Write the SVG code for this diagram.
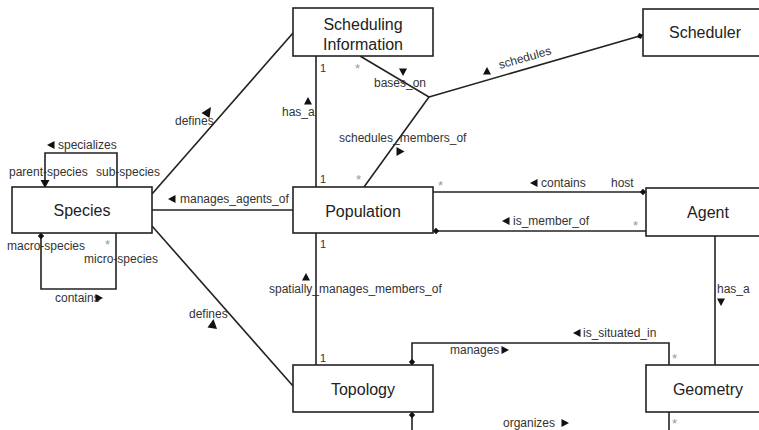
<svg xmlns="http://www.w3.org/2000/svg" xmlns:xlink="http://www.w3.org/1999/xlink" width="759" height="430" viewBox="0 0 759 430">
<style>
.box{fill:#fff;stroke:#222;stroke-width:1.6}
.ln{fill:none;stroke:#222;stroke-width:1.6}
.big{font-family:"Liberation Sans",Arial,sans-serif;font-size:16px;fill:#222;text-anchor:middle}
.lbl{font-family:"Liberation Sans",Arial,sans-serif;font-size:12px;fill:#333}
.mul{font-family:"Liberation Sans",Arial,sans-serif;font-size:11px;fill:#333}
.star{font-family:"Liberation Sans",Arial,sans-serif;font-size:13px;fill:#999}
.fill{fill:#111}
</style>
<defs>
<path id="tri" d="M-3.5,-4 L4,0 L-3.5,4 Z"/>
<path id="dia" d="M-3.2,0 L0,-3.2 L3.2,0 L0,3.2 Z"/>
</defs>
<rect width="759" height="430" fill="#fff"/>
<g id="connectors">
<path class="ln" d="M45,187 V153 H117 V187"/>
<path class="fill" d="M40.5,180 L49.5,180 L45,188 Z"/>
<path class="ln" d="M41,233 V289 H116 V233"/>
<use xlink:href="#dia" class="fill" transform="translate(41,236)"/>
<path class="ln" d="M152,194 L293,33"/>
<path class="ln" d="M152,210 H293"/>
<path class="ln" d="M152,226 L293,386"/>
<path class="ln" d="M316,56 V187"/>
<path class="ln" d="M360,56 L429,97 L364,187"/>
<path class="ln" d="M429,97 L643,35"/>
<use xlink:href="#dia" class="fill" transform="translate(640,36) rotate(-16)"/>
<path class="ln" d="M433,192 H646"/>
<use xlink:href="#dia" class="fill" transform="translate(643,192)"/>
<path class="ln" d="M433,231 H646"/>
<use xlink:href="#dia" class="fill" transform="translate(436,231)"/>
<path class="ln" d="M316,233 V365"/>
<path class="ln" d="M412,365 V343 H669 V365"/>
<use xlink:href="#dia" class="fill" transform="translate(412,362)"/>
<path class="ln" d="M412,412 V431"/>
<use xlink:href="#dia" class="fill" transform="translate(412,415)"/>
<path class="ln" d="M669,412 V431"/>
<path class="ln" d="M715,236 V365"/>

<g id="labels">
<use xlink:href="#tri" class="fill" transform="translate(51,145) rotate(180)"/>
<text class="lbl" x="58" y="149">specializes</text>
<text class="lbl" x="9" y="176">parent-species</text>
<text class="lbl" x="96" y="176">sub-species</text>
<text class="lbl" x="7" y="250">macro-species</text>
<text class="star" x="105" y="249">*</text>
<text class="lbl" x="84" y="263">micro-species</text>
<text class="lbl" x="55" y="302">contains</text>
<use xlink:href="#tri" class="fill" transform="translate(99,298)"/>

<text class="lbl" x="175" y="125">defines</text>
<path class="fill" d="M201.5,113 L211,107 L209.5,118 Z"/>
<text class="lbl" x="189" y="318">defines</text>
<path class="fill" d="M207.5,327.5 L213.5,319 L217,329 Z"/>

<use xlink:href="#tri" class="fill" transform="translate(172,199) rotate(180)"/>
<text class="lbl" x="180" y="203">manages_agents_of</text>

<text class="lbl" x="282" y="116">has_a</text>
<use xlink:href="#tri" class="fill" transform="translate(308,101) rotate(-90)"/>
<text class="mul" x="320" y="72">1</text>
<text class="star" x="355" y="73">*</text>
<use xlink:href="#tri" class="fill" transform="translate(403,72) rotate(90)"/>
<text class="lbl" x="374" y="87">bases_on</text>
<text class="lbl" x="339" y="142">schedules_members_of</text>
<path class="fill" d="M396.5,147 L404.5,151.5 L396.5,156 Z"/>
<text class="mul" x="320" y="183">1</text>
<text class="star" x="356" y="184">*</text>
<use xlink:href="#tri" class="fill" transform="translate(487,71) rotate(-90)"/>
<text class="lbl" transform="translate(500,69) rotate(-16)">schedules</text>

<text class="star" x="438" y="190">*</text>
<use xlink:href="#tri" class="fill" transform="translate(534,183) rotate(180)"/>
<text class="lbl" x="541" y="187">contains</text>
<text class="lbl" x="611" y="187">host</text>
<use xlink:href="#tri" class="fill" transform="translate(506,221) rotate(180)"/>
<text class="lbl" x="513" y="225">is_member_of</text>
<text class="star" x="633" y="230">*</text>

<text class="mul" x="320" y="248">1</text>
<use xlink:href="#tri" class="fill" transform="translate(306,277) rotate(-90)"/>
<text class="lbl" x="269" y="293">spatially_manages_members_of</text>
<text class="mul" x="320" y="362">1</text>

<text class="lbl" x="717" y="293">has_a</text>
<use xlink:href="#tri" class="fill" transform="translate(721,302) rotate(90)"/>

<use xlink:href="#tri" class="fill" transform="translate(577,333) rotate(180)"/>
<text class="lbl" x="583" y="337">is_situated_in</text>
<text class="lbl" x="450" y="354">manages</text>
<use xlink:href="#tri" class="fill" transform="translate(505,350)"/>
<text class="star" x="672" y="363">*</text>
<text class="lbl" x="503" y="427">organizes</text>
<use xlink:href="#tri" class="fill" transform="translate(565,423)"/>
<text class="star" x="672" y="428">*</text>
</g>
</g>

<g id="species"><rect class="box" x="12" y="187" width="140" height="46"/><text class="big" x="82" y="216">Species</text></g>
<g id="scheduling-information"><rect class="box" x="293" y="8" width="140" height="48"/><text class="big" x="363" y="30">Scheduling</text><text class="big" x="363" y="50">Information</text></g>
<g id="scheduler"><rect class="box" x="643" y="9" width="140" height="47"/><text class="big" x="705" y="38">Scheduler</text></g>
<g id="population"><rect class="box" x="293" y="187" width="140" height="46"/><text class="big" x="363" y="217">Population</text></g>
<g id="agent"><rect class="box" x="646" y="188" width="140" height="48"/><text class="big" x="708" y="218">Agent</text></g>
<g id="topology"><rect class="box" x="293" y="365" width="140" height="47"/><text class="big" x="363" y="395">Topology</text></g>
<g id="geometry"><rect class="box" x="646" y="365" width="140" height="47"/><text class="big" x="708" y="395">Geometry</text></g>
</svg>
